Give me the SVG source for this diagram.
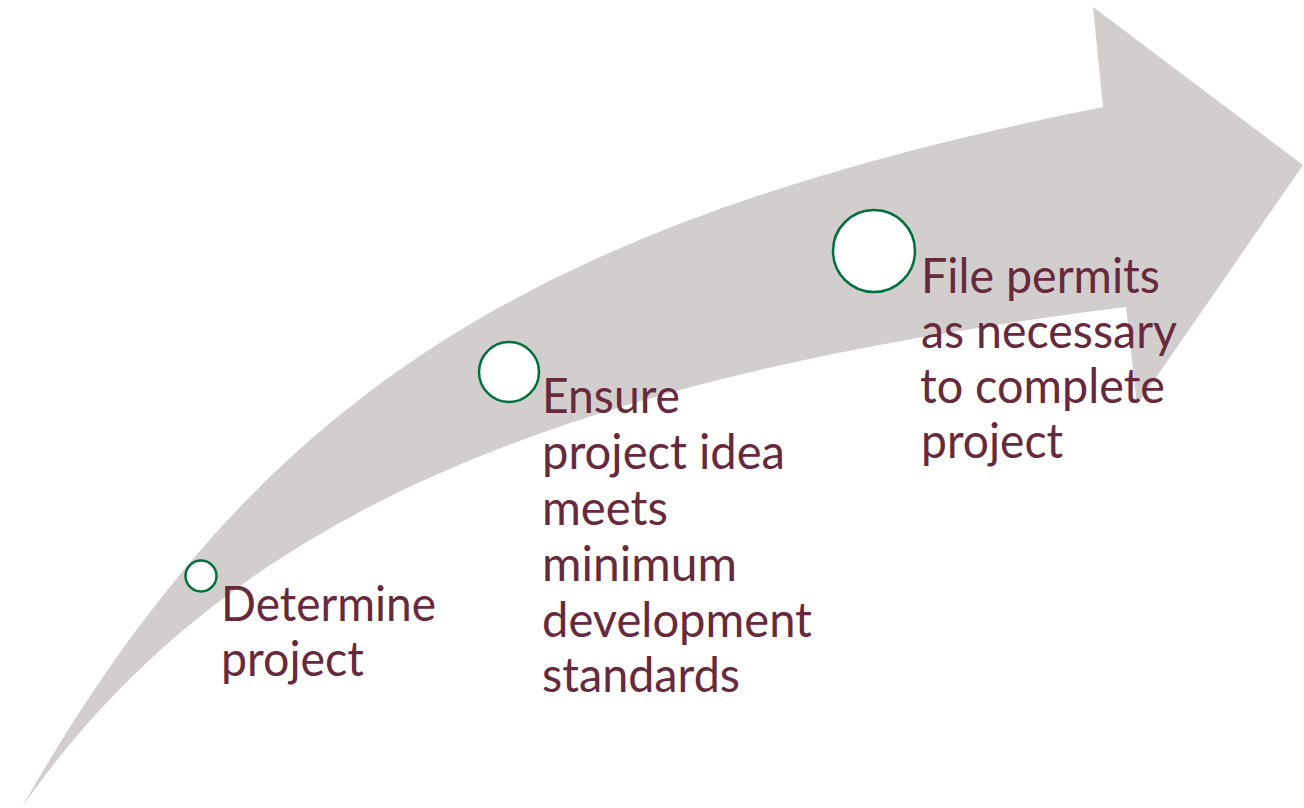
<svg xmlns="http://www.w3.org/2000/svg" width="1304" height="808" viewBox="0 0 1304 808">
<style>
.lbl{font-family:Lato,"Open Sans","Liberation Sans",sans-serif;font-size:48px;fill:#672a3c}
.dot{fill:#ffffff;stroke:#00703c;stroke-width:2.5}
</style>
<rect width="1304" height="808" fill="#ffffff"/>
<g id="arrow">
<path fill="#d3cece" d="M22,807 C256,397.5 526.3,222.5 1103,107 L1093,7 L1303,165 L1137,405 L1126,307 C538,379.8 220,525 22,807 Z"/>
</g>
<g id="step1">
<circle class="dot" cx="201" cy="576" r="15.5"/>
<text class="lbl"><tspan x="221" y="621" textLength="215" lengthAdjust="spacingAndGlyphs">Determine</tspan><tspan x="221" y="676" textLength="143" lengthAdjust="spacingAndGlyphs">project</tspan></text>
</g>
<g id="step2">
<circle class="dot" cx="509" cy="372" r="30"/>
<text class="lbl"><tspan x="542" y="413" textLength="138" lengthAdjust="spacingAndGlyphs">Ensure</tspan><tspan x="542" y="469" textLength="243" lengthAdjust="spacingAndGlyphs">project idea</tspan><tspan x="542" y="525" textLength="126" lengthAdjust="spacingAndGlyphs">meets</tspan><tspan x="542" y="581" textLength="195" lengthAdjust="spacingAndGlyphs">minimum</tspan><tspan x="542" y="637" textLength="270" lengthAdjust="spacingAndGlyphs">development</tspan><tspan x="542" y="692" textLength="198" lengthAdjust="spacingAndGlyphs">standards</tspan></text>
</g>
<g id="step3">
<circle class="dot" cx="874" cy="251" r="41"/>
<text class="lbl"><tspan x="921" y="293" textLength="239" lengthAdjust="spacingAndGlyphs">File permits</tspan><tspan x="921" y="348" textLength="256" lengthAdjust="spacingAndGlyphs">as necessary</tspan><tspan x="920" y="403" textLength="245" lengthAdjust="spacingAndGlyphs">to complete</tspan><tspan x="921" y="458" textLength="142" lengthAdjust="spacingAndGlyphs">project</tspan></text>
</g>
<g id="connectors"></g>
</svg>
